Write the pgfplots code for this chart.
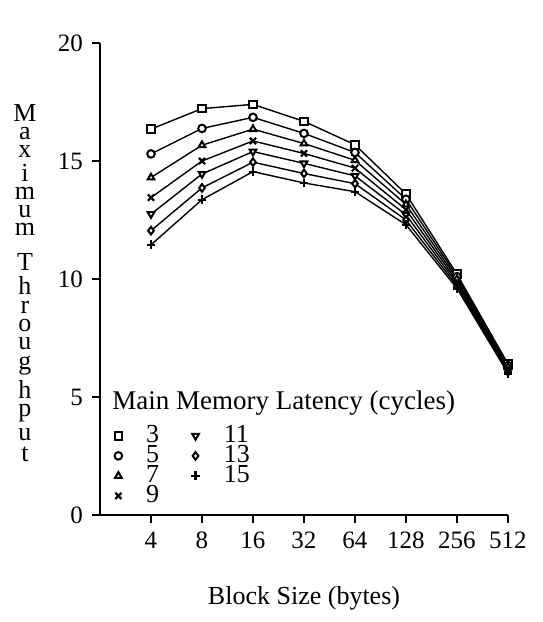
\documentclass[border=0pt]{standalone}
\usepackage{pgfplots}
\pgfplotsset{compat=1.18}
\usepackage{fontspec}
\setmainfont{Liberation Serif}
\begin{document}
\fontsize{13}{15}\selectfont
\begin{tikzpicture}
\begin{axis}[name=ax, scale only axis, width=204pt, height=236pt,
  xmin=-1, xmax=7, ymin=0, ymax=20,
  axis x line=bottom, axis y line=left,
  axis line style={-, line width=0.8pt},
  xtick={0,...,7}, xticklabels={4,8,16,32,64,128,256,512},
  ytick={0,5,10,15,20},
  tick align=outside, major tick length=4pt,
  tick style={line width=0.8pt, black},
  ticklabel style={font=\fontsize{12.5}{14}\selectfont},
  /pgf/number format/assume math mode=true,
  xlabel={Block Size (bytes)},
  xlabel style={font=\fontsize{13}{15}\selectfont, yshift=-10pt},
  every axis plot/.append style={black, solid, line width=0.7pt, mark size=1.9pt,
    mark options={solid, fill=white, line width=1pt}},
  legend columns=4, transpose legend,
  legend cell align=left,
  legend image code/.code={\draw[#1] plot coordinates {(0pt,0pt)};},
  legend style={draw=none, fill=none, at={(rel axis cs:0.02,0.01)}, anchor=south west,
    font=\fontsize{13}{15}\selectfont,
    nodes={inner sep=0pt, text height=8.5pt, text depth=1.5pt},
    /tikz/every even column/.append style={column sep=16pt},
    /tikz/every odd column/.append style={column sep=12pt}},
]
\addplot[mark=square*] coordinates {(0,16.35) (1,17.22) (2,17.4) (3,16.68) (4,15.69) (5,13.6) (6,10.2) (7,6.4)};
\addplot[mark=*] coordinates {(0,15.3) (1,16.38) (2,16.85) (3,16.17) (4,15.36) (5,13.38) (6,10.1) (7,6.33)};
\addplot[mark=triangle*] coordinates {(0,14.3) (1,15.67) (2,16.35) (3,15.74) (4,15.03) (5,13.16) (6,10.0) (7,6.27)};
\addplot[mark=x, mark size=2.2pt, mark options={solid, line width=1.1pt}] coordinates {(0,13.45) (1,15.0) (2,15.85) (3,15.32) (4,14.7) (5,12.94) (6,9.9) (7,6.2)};
\addplot[mark=triangle*, mark options={solid, fill=white, line width=1pt, rotate=180}] coordinates {(0,12.75) (1,14.45) (2,15.4) (3,14.9) (4,14.37) (5,12.72) (6,9.8) (7,6.13)};
\addplot[mark=diamond*] coordinates {(0,12.05) (1,13.86) (2,14.95) (3,14.47) (4,14.04) (5,12.5) (6,9.7) (7,6.07)};
\addplot[mark=+, mark size=2.2pt, mark options={solid, line width=1.1pt}] coordinates {(0,11.45) (1,13.36) (2,14.55) (3,14.07) (4,13.7) (5,12.3) (6,9.6) (7,6.0)};
\legend{3,5,7,9,11,13,15}
\end{axis}
\node[anchor=west, inner sep=0pt, font=\fontsize{13.5}{15}\selectfont] at ([xshift=6pt, yshift=56pt]ax.south west) {Main Memory Latency (cycles)};
\node[anchor=center, inner sep=0pt] at ([xshift=-37.5pt, yshift=-2pt]ax.west)
  {\shortstack{M\\a\\x\\i\\m\\u\\m\\[6pt]T\\h\\r\\o\\u\\g\\h\\p\\u\\t}};
\pgfresetboundingbox
\path ([xshift=-50pt, yshift=-53.5pt]ax.south west) rectangle ([xshift=17.5pt, yshift=21.5pt]ax.north east);
\end{tikzpicture}
\end{document}
